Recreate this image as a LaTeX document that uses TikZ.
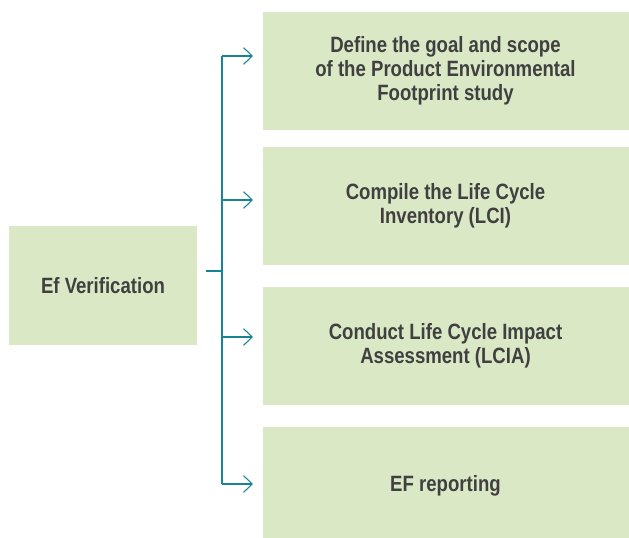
\documentclass[tikz,border=0pt]{standalone}
\usepackage{fontspec}
\setmainfont[FakeStretch=0.84]{Liberation Sans}
\usetikzlibrary{arrows.meta}
\definecolor{boxgreen}{RGB}{218,232,198}
\definecolor{linkteal}{RGB}{22,132,148}
\definecolor{textgrey}{RGB}{64,64,64}
\begin{document}
\begin{tikzpicture}[x=0.75pt, y=-0.75pt, font=\fontsize{16.6}{18}\selectfont\bfseries, text=textgrey]
        \tikzset{box/.style={fill=boxgreen, minimum width=274.5pt, minimum height=88.5pt, align=center, inner sep=0pt},
                 link/.style={draw=linkteal, line width=0.8pt},
                 arr/.style={link, -{Straight Barb[length=6.5pt, width=12.5pt, line width=0.8pt]}}}
        \useasboundingbox (0,0) rectangle (629,538);

        \node[box, minimum width=141pt, minimum height=89pt] (ver) at (103,285.5) {Ef Verification};

        \node[box] (goal) at (445.5,71) {Define the goal and scope\\of the Product Environmental\\Footprint study};
        \node[box] (lci) at (445.5,206) {Compile the Life Cycle\\Inventory (LCI)};
        \node[box] (lcia) at (445.5,346) {Conduct Life Cycle Impact\\Assessment (LCIA)};
        \node[box] (rep) at (445.5,486) {EF reporting};

        % trunk and branches
        \coordinate (out) at (206,271);
        \coordinate (split) at (222,271);
        \coordinate (goal-in) at (253,56);
        \coordinate (lci-in) at (253,200);
        \coordinate (lcia-in) at (253,337);
        \coordinate (rep-in) at (253,484);
        \draw[link] (out) -- (split);
        \draw[link] (split |- goal-in) -- (split |- rep-in);
        \foreach \n in {goal,lci,lcia,rep}
            \draw[arr] (split |- \n-in) -- (\n-in);
    \end{tikzpicture}
\end{document}
